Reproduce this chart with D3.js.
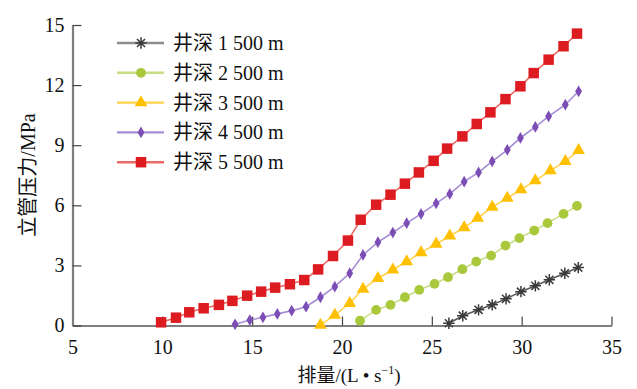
<!DOCTYPE html>
<html>
<head>
<meta charset="utf-8">
<script src="https://cdn.jsdelivr.net/npm/d3@7"></script>
<style>
  body { margin: 0; background: #fff; }
  text { font-family: "Liberation Serif", "Noto Sans CJK SC", serif; }
</style>
</head>
<body>
<div id="chart"></div>
<script>
// displacement (L/s) and standpipe pressure (MPa) for each well depth
let x1500 = [25.95, 26.72, 27.6, 28.36, 29.13, 29.96, 30.76, 31.54, 32.4, 33.15];
let y1500 = [0.11, 0.49, 0.78, 1.03, 1.33, 1.69, 1.98, 2.28, 2.61, 2.89];

let x2500 = [21.0, 21.9, 22.7, 23.5, 24.3, 25.15, 25.9, 26.7, 27.47, 28.3, 29.1, 29.87, 30.7, 31.44, 32.33, 33.08];
let y2500 = [0.24, 0.78, 1.03, 1.41, 1.78, 2.08, 2.41, 2.81, 3.19, 3.49, 3.99, 4.36, 4.74, 5.11, 5.57, 5.97];

let x3500 = [18.8, 19.6, 20.43, 21.17, 22.0, 22.83, 23.6, 24.4, 25.24, 26.0, 26.8, 27.55, 28.36, 29.2, 29.96, 30.76, 31.6, 32.43, 33.17];
let y3500 = [0.02, 0.52, 1.11, 1.82, 2.36, 2.78, 3.19, 3.64, 4.07, 4.47, 4.89, 5.36, 5.91, 6.36, 6.78, 7.23, 7.73, 8.19, 8.74];

let x4500 = [14.05, 14.87, 15.6, 16.4, 17.2, 18.0, 18.8, 19.6, 20.43, 21.17, 22.0, 22.83, 23.6, 24.4, 25.24, 26.0, 26.8, 27.6, 28.36, 29.2, 29.93, 30.76, 31.5, 32.43, 33.17];
let y4500 = [0.06, 0.27, 0.41, 0.58, 0.74, 0.94, 1.41, 1.94, 2.61, 3.52, 4.16, 4.64, 5.11, 5.57, 6.1, 6.57, 7.18, 7.64, 8.19, 8.77, 9.36, 9.91, 10.44, 11.02, 11.69];

let x5500 = [9.93, 10.76, 11.5, 12.3, 13.15, 13.9, 14.72, 15.5, 16.28, 17.1, 17.9, 18.67, 19.5, 20.33, 21.04, 21.9, 22.7, 23.5, 24.28, 25.1, 25.85, 26.7, 27.5, 28.26, 29.1, 29.93, 30.67, 31.5, 32.33, 33.08];
let y5500 = [0.16, 0.39, 0.66, 0.86, 1.03, 1.23, 1.49, 1.69, 1.89, 2.06, 2.27, 2.8, 3.47, 4.24, 5.28, 6.03, 6.53, 7.08, 7.64, 8.22, 8.83, 9.44, 10.06, 10.64, 11.3, 11.94, 12.6, 13.27, 13.94, 14.57];

let seriesNames = ["井深 1 500 m", "井深 2 500 m", "井深 3 500 m", "井深 4 500 m", "井深 5 500 m"];
let xTicks = [5, 10, 15, 20, 25, 30, 35];
let yTicks = [0, 3, 6, 9, 12, 15];

let width = 637, height = 389;
let margin = {top: 25, right: 25.5, bottom: 63.5, left: 72.5};

let svg = d3.select("#chart").append("svg")
    .attr("width", width)
    .attr("height", height);

let x = d3.scaleLinear().domain([5, 35]).range([margin.left, width - margin.right]);
let y = d3.scaleLinear().domain([0, 15]).range([height - margin.bottom, margin.top]);

// eight-armed star marker
let star = {
    draw(context, size) {
        let r = Math.sqrt(size) / 2;
        let d = r * Math.SQRT1_2;
        context.moveTo(-r, 0); context.lineTo(r, 0);
        context.moveTo(0, -r); context.lineTo(0, r);
        context.moveTo(-d, -d); context.lineTo(d, d);
        context.moveTo(-d, d); context.lineTo(d, -d);
    }
};

let styles = [
    {line: "#5a5a5a", fill: "none", stroke: "#3a3a3a", symbol: star, size: 130, sw: 1.5},
    {line: "#c9dc86", fill: "#a9c83c", stroke: "none", symbol: d3.symbolCircle, size: 75, sw: 0},
    {line: "#ffd24d", fill: "#ffc000", stroke: "none", symbol: d3.symbolTriangle, size: 70, sw: 0},
    {line: "#a68cd4", fill: "#7b4db5", stroke: "none", symbol: d3.symbolDiamond, size: 40, sw: 0},
    {line: "#ec6a66", fill: "#dc1c20", stroke: "none", symbol: d3.symbolSquare, size: 110, sw: 0}
];

let series = [
    {xs: x1500, ys: y1500},
    {xs: x2500, ys: y2500},
    {xs: x3500, ys: y3500},
    {xs: x4500, ys: y4500},
    {xs: x5500, ys: y5500}
].map((s, i) => ({
    name: seriesNames[i],
    style: styles[i],
    values: s.xs.map((v, j) => ({x: v, y: s.ys[j]}))
}));

// axes (ticks pointing inward)
let xAxis = d3.axisBottom(x).tickValues(xTicks).tickSizeInner(-9).tickSizeOuter(0).tickPadding(14);
let yAxis = d3.axisLeft(y).tickValues(yTicks).tickSizeInner(-9).tickSizeOuter(0).tickPadding(8);

let xg = svg.append("g")
    .attr("transform", `translate(0, ${y(0)})`)
    .call(xAxis);
let yg = svg.append("g")
    .attr("transform", `translate(${x(5)}, 0)`)
    .call(yAxis);

[xg, yg].forEach(g => {
    g.select(".domain").attr("stroke", "#7f7f7f").attr("stroke-width", 2.2);
    g.selectAll(".tick line").attr("stroke", "#444").attr("stroke-width", 1.2);
    g.selectAll(".tick text").attr("fill", "#111").style("font-size", "20px")
        .style("font-family", "Liberation Serif, serif");
});

// lines and markers
let line = d3.line().x(d => x(d.x)).y(d => y(d.y));

series.forEach(s => {
    svg.append("path")
        .datum(s.values)
        .attr("fill", "none")
        .attr("stroke", s.style.line)
        .attr("stroke-width", 1.6)
        .attr("d", line);

    svg.selectAll(null)
        .data(s.values)
        .enter().append("path")
        .attr("transform", d => `translate(${x(d.x)}, ${y(d.y)})`)
        .attr("d", d3.symbol().type(s.style.symbol).size(s.style.size))
        .attr("fill", s.style.fill)
        .attr("stroke", s.style.stroke)
        .attr("stroke-width", s.style.sw);
});

// legend
let legend = svg.append("g").attr("transform", "translate(117, 43)");
series.forEach((s, i) => {
    let row = legend.append("g").attr("transform", `translate(0, ${i * 29.8})`);
    row.append("line")
        .attr("x1", 0).attr("x2", 47)
        .attr("stroke", i === 0 ? "#8c8c8c" : s.style.line)
        .attr("stroke-width", 2.4);
    row.append("path")
        .attr("transform", "translate(24, 0)")
        .attr("d", d3.symbol().type(s.style.symbol).size(s.style.size))
        .attr("fill", s.style.fill)
        .attr("stroke", s.style.stroke)
        .attr("stroke-width", s.style.sw);
    row.append("text")
        .attr("x", 56)
        .attr("dy", "0.35em")
        .style("font-size", "20px")
        .attr("fill", "#111")
        .text(s.name);
});

// axis titles
svg.append("text")
    .attr("x", 349)
    .attr("y", 382)
    .attr("text-anchor", "middle")
    .style("font-size", "19px")
    .attr("fill", "#111")
    .html("排量/(L • s<tspan dy='-8' font-size='12px'>−1</tspan><tspan dy='8'>)</tspan>");

svg.append("text")
    .attr("transform", "translate(35, 175) rotate(-90)")
    .attr("text-anchor", "middle")
    .style("font-size", "20px")
    .attr("fill", "#111")
    .text("立管压力/MPa");
</script>
</body>
</html>
